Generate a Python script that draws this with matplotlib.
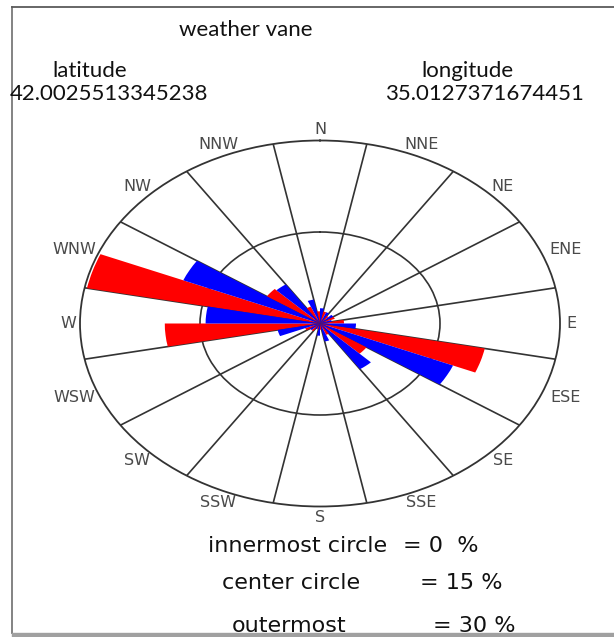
import numpy as np
import matplotlib
matplotlib.use("Agg")
import matplotlib.pyplot as plt
from matplotlib.lines import Line2D
from matplotlib.patches import Rectangle

# ---------------- data ----------------
directions = ["N", "NNE", "NE", "ENE", "E", "ESE", "SE", "SSE",
              "S", "SSW", "SW", "WSW", "W", "WNW", "NW", "NNW"]
red_pct = [2.0, 2.0, 1.5, 2.0, 3.0, 21.0, 7.0, 2.0,
           1.0, 1.0, 1.5, 2.0, 19.4, 29.7, 8.0, 3.0]
blue_pct = [2.5, 2.0, 2.0, 1.5, 4.5, 18.0, 9.0, 3.0,
            2.0, 1.0, 1.5, 5.4, 14.3, 18.5, 7.7, 4.0]
ring_values = [15, 30]
title = "weather vane"
lat_label, lat_value = "latitude", "42.0025513345238"
lon_label, lon_value = "longitude", "35.0127371674451"
legend_names = ["innermost circle", "center circle", "outermost"]
legend_values = ["= 0  %", "= 15 %", "= 30 %"]

W, H = 614, 637
fig = plt.figure(figsize=(W / 100, H / 100), dpi=100)
fig.patch.set_facecolor("white")

# polar axes stretched into an ellipse
cx, cy, rx, ry = 320, 323.5, 240, 183
ax = fig.add_axes([(cx - rx) / W, 1 - (cy + ry) / H, 2 * rx / W, 2 * ry / H],
                  projection="polar")
ax.set_aspect("auto")
ax.set_theta_zero_location("N")
ax.set_theta_direction(-1)

n = len(directions)
step = 360.0 / n
centers = np.deg2rad(np.arange(n) * step)
half = np.deg2rad(step / 4)
width = np.deg2rad(step / 2)

ax.bar(centers - half, red_pct, width=width, color="#ff0000",
       edgecolor="none", zorder=3)
ax.bar(centers + half, blue_pct, width=width, color="#0000ff",
       edgecolor="none", zorder=3)

ax.set_ylim(0, ring_values[-1])
ax.set_rgrids(ring_values[:-1], labels=[])
ax.set_thetagrids(np.arange(n) * step + step / 2, labels=[])
ax.grid(True, color="#333333", linewidth=1.2, zorder=1)
ax.spines["polar"].set_color("#333333")
ax.spines["polar"].set_linewidth(1.3)
ax.set_facecolor("white")

# direction labels outside the ellipse
for lab, th in zip(directions, centers):
    s, c = np.sin(th), np.cos(th)
    hw = 6.8 * len(lab)
    hh = 6.0
    gap = 5
    ax.annotate(lab, xy=(th, ring_values[-1]),
                xytext=(s * (hw + gap), c * (hh + gap)),
                textcoords="offset pixels", ha="center", va="center",
                fontsize=11.5, color="#4a4a4a", family="DejaVu Sans",
                annotation_clip=False)

# header texts
hfont = dict(family="Lato", color="#111111", fontsize=16)
fig.text(246 / W, 1 - 36.5 / H, title, ha="center", va="baseline", **hfont)
fig.text(90 / W, 1 - 77 / H, lat_label, ha="center", va="baseline", **hfont)
fig.text(467 / W, 1 - 77 / H, lon_label, ha="center", va="baseline", **hfont)
fig.text(109 / W, 1 - 100.5 / H, lat_value, ha="center", va="baseline", **hfont)
fig.text(484 / W, 1 - 100.5 / H, lon_value, ha="center", va="baseline", **hfont)

# bottom legend texts
bfont = dict(family="DejaVu Sans", color="#111111", fontsize=16)
for name, val, xl, xv, yb in zip(legend_names, legend_values,
                                 [208, 222, 232], [403, 420, 433],
                                 [552, 589, 632]):
    fig.text(xl / W, 1 - yb / H, name, ha="left", va="baseline", **bfont)
    fig.text(xv / W, 1 - yb / H, val, ha="left", va="baseline", **bfont)

# frame lines
fig.add_artist(Line2D([12 / W, 12 / W], [1 - 7 / H, 1 - 633 / H],
                      color="#7a7a7a", linewidth=1.3))
fig.add_artist(Line2D([12 / W, 1.0], [1 - 7 / H, 1 - 7 / H],
                      color="#5a5a5a", linewidth=1.3))
fig.add_artist(Rectangle((12 / W, 0), 1 - 12 / W, 4 / H,
                         transform=fig.transFigure, color="#a0a0a0",
                         zorder=5))

fig.savefig("out.png", dpi=100, facecolor="white")
